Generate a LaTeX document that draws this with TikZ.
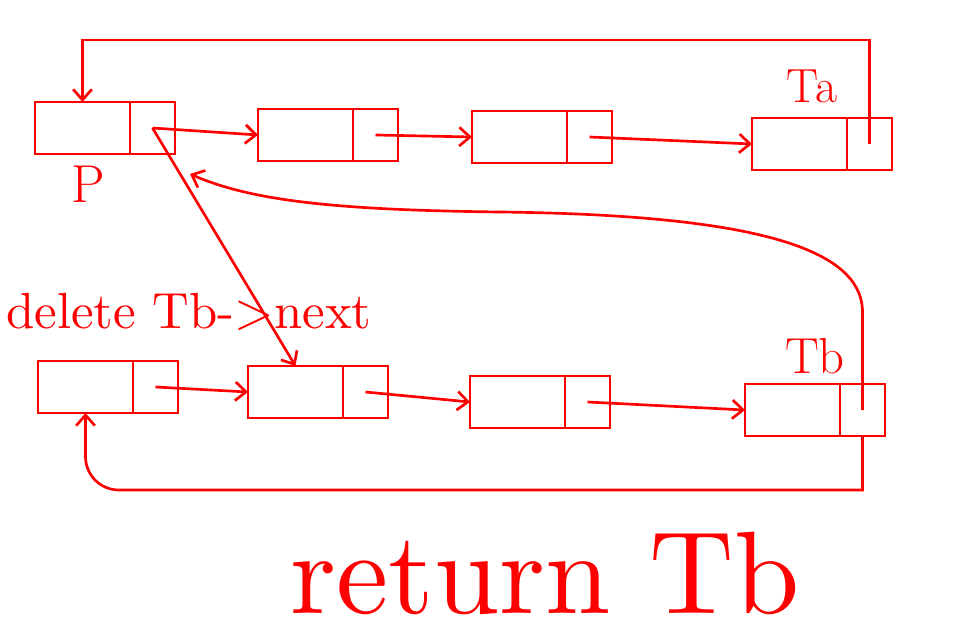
\documentclass[tikz,border=0pt]{standalone}
\usepackage{fontspec}
\usepackage{graphicx}
\usetikzlibrary{arrows.meta,calc}
\begin{document}
\begin{tikzpicture}[x=0.75pt,y=-0.75pt,
  line width=2pt, red,
  datab/.style={draw=red, minimum width=71.25pt, minimum height=39pt, inner sep=0pt, outer sep=0pt, anchor=west},
  nextb/.style={draw=red, minimum width=33.75pt, minimum height=39pt, inner sep=0pt, outer sep=0pt, anchor=west},
  ptr/.style={draw=red, -{Straight Barb[length=8pt,width=14pt]}},
  lbl/.style={text=red, inner sep=0pt}]
\useasboundingbox (0,0) rectangle (955,641);
\fill[white] (0,0) rectangle (955,641);
% top list
\node[datab] (t1d) at (35,128) {};  \node[nextb] (t1n) at (t1d.east) {};
\node[datab] (t2d) at (258,135) {}; \node[nextb] (t2n) at (t2d.east) {};
\node[datab] (t3d) at (472,137) {}; \node[nextb] (t3n) at (t3d.east) {};
\node[datab] (t4d) at (752,144) {}; \node[nextb] (t4n) at (t4d.east) {};
% bottom list
\node[datab] (b1d) at (38,387) {};  \node[nextb] (b1n) at (b1d.east) {};
\node[datab] (b2d) at (248,392) {}; \node[nextb] (b2n) at (b2d.east) {};
\node[datab] (b3d) at (470,402) {}; \node[nextb] (b3n) at (b3d.east) {};
\node[datab] (b4d) at (745,410) {}; \node[nextb] (b4n) at (b4d.east) {};
% labels
\node[lbl] (plbl) at (88,184) {\fontsize{40}{40}\selectfont P};
\node[lbl] (talbl) at (812,86) {\fontsize{36}{36}\selectfont Ta};
\node[lbl] (tblbl) at (815,356) {\fontsize{38}{38}\selectfont Tb};
\node[lbl, anchor=west] (dellbl) at (5,312) {\resizebox{274pt}{!}{delete Tb->next}};
\node[lbl] (retlbl) at (545,573) {\resizebox{382pt}{!}{return Tb}};
% coordinates
\coordinate (topy) at (0,40);
\coordinate (boty) at (0,490);
% next pointers
\draw[ptr] (t1n.center) -- (t2d.west);
\draw[ptr] (t2n.center) -- (t3d.west);
\draw[ptr] (t3n.center) -- (t4d.west);
\draw[ptr] (b1n.center) -- (b2d.west);
\draw[ptr] (b2n.center) -- (b3d.west);
\draw[ptr] (b3n.center) -- (b4d.west);
% Ta loop back to P
\draw[ptr] (t4n.center) -- (t4n.center |- topy) -- (t1d.north |- topy) -- (t1d.north);
% P next to Tb->next
\draw[ptr] (t1n.center) -- (b2d.north);
% Tb next to P
\draw[ptr] (b4n.center) -- ($(b4n.center)+(0,-100)$)
  .. controls (860,250) and (760,215) .. (500,212)
  .. controls (330,210) and (250,200) .. ($(t1n.south east)+(15,20)$);
% Tb loop to deleted node
\draw[ptr] (b4n.south) -- (b4n.south |- boty) [rounded corners=25pt] -- (b1d.south |- boty) -- (b1d.south);
\end{tikzpicture}
\end{document}
